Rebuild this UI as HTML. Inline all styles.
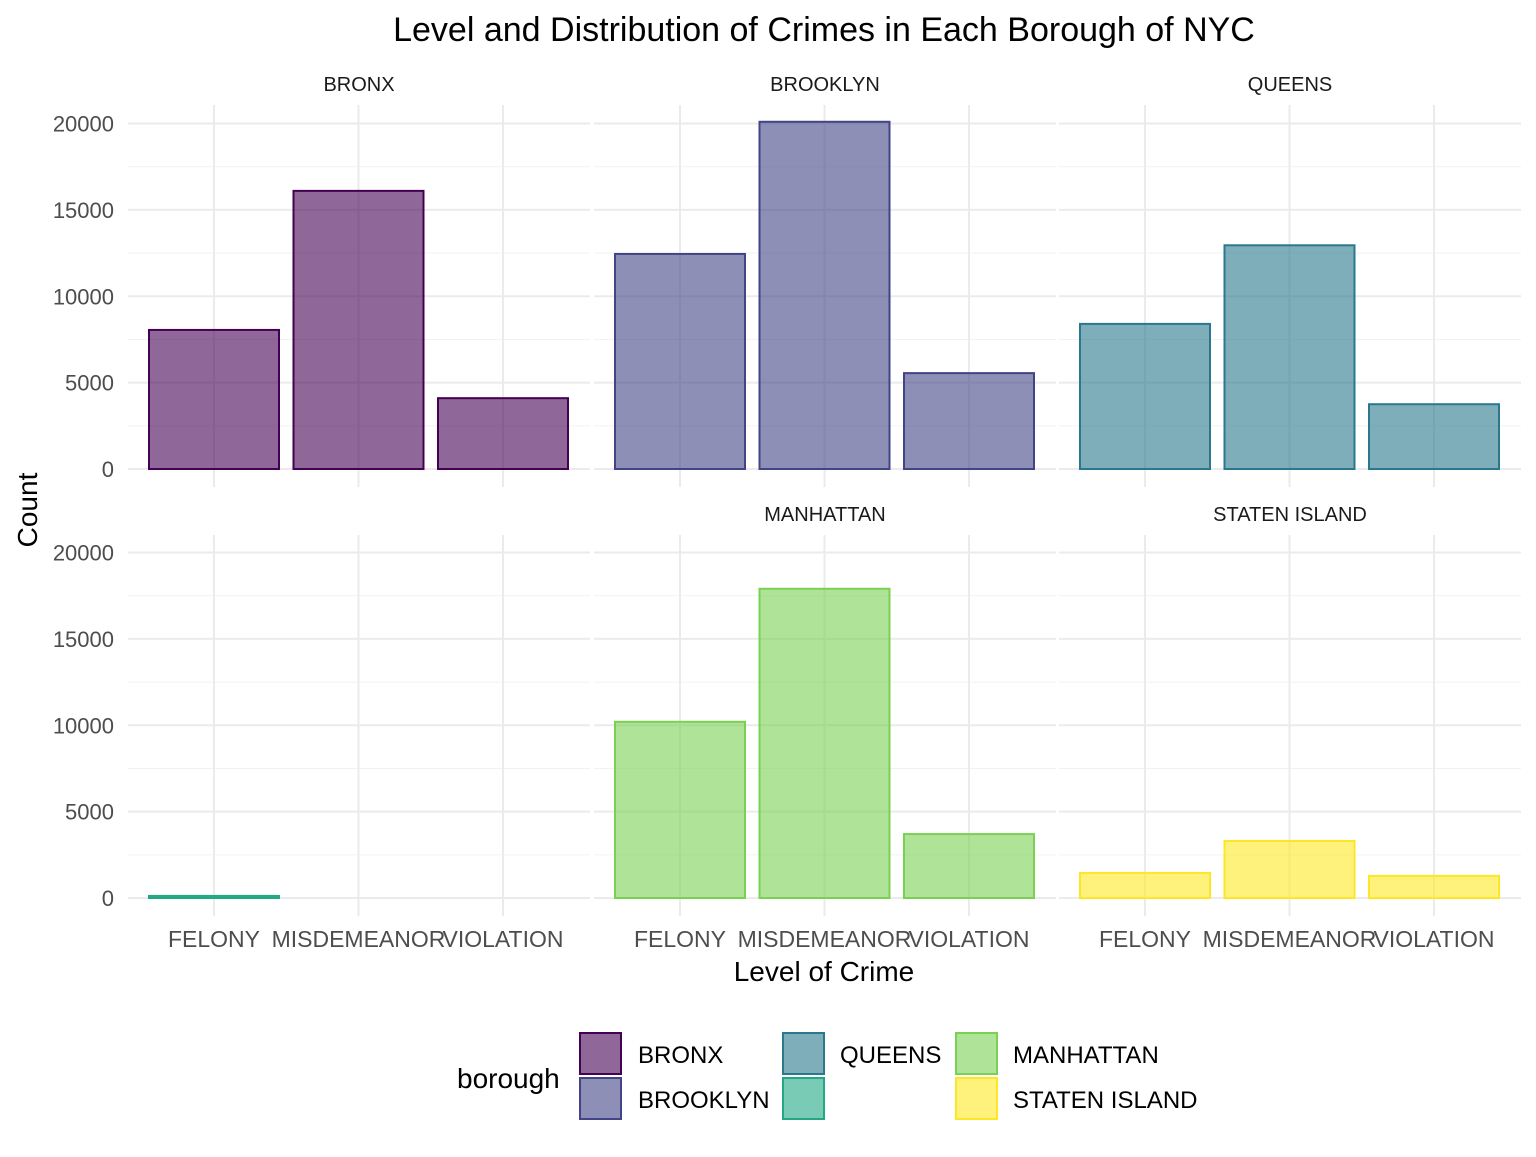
<!DOCTYPE html>
<html><head><meta charset="utf-8"><style>
body{margin:0;background:#fff;}
svg text{font-family:"Liberation Sans",sans-serif;}
</style></head><body>
<svg id="chart" width="1536" height="1152" xmlns="http://www.w3.org/2000/svg">
<rect width="1536" height="1152" fill="#fff"/>
<text x="824" y="41" font-size="34" text-anchor="middle" fill="#000">Level and Distribution of Crimes in Each Borough of NYC</text>
<text x="37" y="510" font-size="28" text-anchor="middle" transform="rotate(-90 37 510)">Count</text>
<text x="824" y="981" font-size="28" text-anchor="middle">Level of Crime</text>
<g id="panels"></g>
<g id="legend">
<text x="457" y="1088" font-size="28">borough</text>
</g>
</svg>
<script>
const categories = ["FELONY","MISDEMEANOR","VIOLATION"];
const boroughs = ["BRONX","BROOKLYN","QUEENS","NA","MANHATTAN","STATEN ISLAND"];
const bronx = [8050, 16100, 4100];
const brooklyn = [12450, 20100, 5550];
const queens = [8400, 12950, 3750];
const unknown = [120, 0, 0];
const manhattan = [10200, 17900, 3700];
const statenIsland = [1450, 3300, 1280];
const yTicks = [0, 5000, 10000, 15000, 20000];
const colors = ["#440154","#414487","#2A788E","#22A884","#7AD151","#FDE725"];
const series = [bronx, brooklyn, queens, unknown, manhattan, statenIsland];
const NS = "http://www.w3.org/2000/svg";
const g = document.getElementById('panels');
function mk(tag, attrs, parent){const e=document.createElementNS(NS,tag);for(const k in attrs)e.setAttribute(k,attrs[k]);(parent||g).appendChild(e);return e;}
const panelX = [128, 594, 1059], panelW = 462;
const rowZero = [469, 898], rowTop = [105, 535], rowBot = [487, 916];
const pxPer = 345.5/20000;
for(let p=0;p<6;p++){
  const col=p%3,row=Math.floor(p/3);
  const x0=panelX[col], z=rowZero[row];
  const y = v => z - v*pxPer;
  const xc = i => x0 + 86 + i*144.5;
  const pg = mk('g',{});
  
  
  for(let t=0;t<yTicks.length;t++){
    mk('line',{x1:x0,x2:x0+panelW,y1:y(yTicks[t]),y2:y(yTicks[t]),stroke:'#ebebeb','stroke-width':2},pg);
    if(t<yTicks.length-1){const m=(yTicks[t]+yTicks[t+1])/2;mk('line',{x1:x0,x2:x0+panelW,y1:y(m),y2:y(m),stroke:'#f2f2f2','stroke-width':1},pg);}
  }
  for(let i=0;i<3;i++) mk('line',{x1:xc(i),x2:xc(i),y1:rowTop[row],y2:rowBot[row],stroke:'#ebebeb','stroke-width':2},pg);
  for(let i=0;i<3;i++){
    const v=series[p][i]; if(v<=0) continue;
    const r=mk('rect',{x:xc(i)-65,y:y(v),width:130,height:v*pxPer,fill:colors[p],'fill-opacity':0.6,stroke:colors[p],'stroke-width':2},pg);
    
    
  }
  if(boroughs[p]!=="NA"){
    const s=mk('text',{x:x0+panelW/2,y:rowTop[row]-14,'font-size':20,'text-anchor':'middle',fill:'#1a1a1a'},pg);
    s.textContent=boroughs[p];
    
    
  }
  if(col===0){
    for(const t of yTicks){const tt=mk('text',{x:114,y:y(t)+8,'font-size':22,'text-anchor':'end',fill:'#4d4d4d'},pg);tt.textContent=t;
      
      }
  }
  if(row===1){
    for(let i=0;i<3;i++){const tt=mk('text',{x:xc(i),y:947,'font-size':23,'text-anchor':'middle',fill:'#4d4d4d'},pg);tt.textContent=categories[i];
      
      }
  }
}
const lg=document.getElementById('legend');
const keyX=[579,579,782,782,955,955], keyY=[1032,1077,1032,1077,1032,1077];
const labX=[638,638,840,840,1013,1013];
for(let p=0;p<6;p++){
  const k=mk('rect',{x:keyX[p]+1,y:keyY[p]+1,width:41,height:41,fill:colors[p],'fill-opacity':0.6,stroke:colors[p],'stroke-width':2},lg);
  
  
  if(boroughs[p]!=="NA"){const t=mk('text',{x:labX[p],y:keyY[p]+31,'font-size':24,fill:'#000'},lg);t.textContent=boroughs[p];
    
    }
}
</script>
</body></html>
